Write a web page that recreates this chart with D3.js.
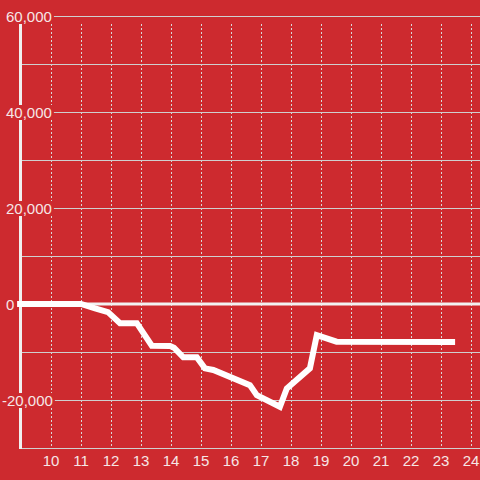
<!DOCTYPE html>
<html>
<head>
<meta charset="utf-8">
<script src="https://cdn.jsdelivr.net/npm/d3@7"></script>
<style>
  body { margin: 0; background: #cd2a2f; }
  svg { display: block; font-family: "Liberation Sans", Arial, sans-serif; }
</style>
</head>
<body>
<div id="chart"></div>
<script>
// Data (hour of day, value)
const hours = [8.87, 11.0, 11.47, 11.9, 12.3, 12.86, 13.36, 13.97, 14.1, 14.41, 14.86, 15.13, 15.41, 16.63, 16.86, 17.63, 17.86, 18.63, 18.86, 19.52, 23.47];
const values = [0, 0, -900, -1700, -4000, -4000, -8700, -8750, -9100, -11100, -11100, -13400, -13750, -16900, -19000, -21400, -17600, -13400, -6500, -7850, -7900];
const xTicks = [10, 11, 12, 13, 14, 15, 16, 17, 18, 19, 20, 21, 22, 23, 24];
const yMajor = [60000, 40000, 20000, 0, -20000];
const yMinor = [50000, 30000, 10000, -10000];

const width = 480, height = 480;
const plotLeft = 21, plotTop = 24, plotBottom = 448;
const bg = "#cd2a2f";

const svg = d3.select("#chart")
  .append("svg")
  .attr("width", width)
  .attr("height", height);

svg.append("rect")
  .attr("width", width)
  .attr("height", height)
  .attr("fill", bg);

// Scales
const x = d3.scaleLinear()
  .domain([9, 24.3])
  .range([plotLeft, width]);

const y = d3.scaleLinear()
  .domain([-30000, 60000])
  .range([plotBottom, 16]);

// Vertical dashed grid
svg.selectAll("vgrid")
  .data(xTicks)
  .join("line")
  .attr("x1", d => Math.round(x(d)) + 0.5)
  .attr("x2", d => Math.round(x(d)) + 0.5)
  .attr("y1", plotTop)
  .attr("y2", plotBottom)
  .attr("stroke", "#d8d8d8")
  .attr("stroke-width", 1)
  .attr("stroke-dasharray", "2,2");

// Horizontal grid
svg.selectAll("hgrid")
  .data(yMajor.concat(yMinor).filter(d => d !== 0))
  .join("line")
  .attr("x1", plotLeft)
  .attr("x2", width)
  .attr("y1", d => Math.round(y(d)) + 0.5)
  .attr("y2", d => Math.round(y(d)) + 0.5)
  .attr("stroke", "#cfcfcf")
  .attr("stroke-width", 1);

// Zero line
svg.append("line")
  .attr("x1", plotLeft)
  .attr("x2", width)
  .attr("y1", y(0))
  .attr("y2", y(0))
  .attr("stroke", "#f2f2f2")
  .attr("stroke-width", 3);

// Bottom axis line
svg.append("line")
  .attr("x1", plotLeft - 1)
  .attr("x2", width)
  .attr("y1", plotBottom + 0.5)
  .attr("y2", plotBottom + 0.5)
  .attr("stroke", "#d0d0d0")
  .attr("stroke-width", 1);

// Left axis line
svg.append("line")
  .attr("x1", plotLeft - 0.5)
  .attr("x2", plotLeft - 0.5)
  .attr("y1", plotTop)
  .attr("y2", plotBottom + 1)
  .attr("stroke", "#f0f0f0")
  .attr("stroke-width", 3);

// Y tick labels with background boxes
const fmt = d3.format(",");
const yLabels = svg.selectAll("ylabel")
  .data(yMajor)
  .join("g");

yLabels.append("text")
  .attr("x", d => d < 0 ? 2 : 6)
  .attr("y", d => y(d) + 6)
  .attr("font-size", "15px")
  .attr("fill", "#f6e6e6")
  .text(d => fmt(d).replace("−", "-"));

yLabels.each(function () {
  const g = d3.select(this);
  const b = g.select("text").node().getBBox();
  g.insert("rect", "text")
    .attr("x", b.x - 2)
    .attr("y", b.y + 1)
    .attr("width", b.width + 4)
    .attr("height", b.height - 2)
    .attr("fill", bg);
});

// X tick labels
svg.selectAll("xlabel")
  .data(xTicks)
  .join("text")
  .attr("x", d => x(d))
  .attr("y", 465.5)
  .attr("text-anchor", "middle")
  .attr("font-size", "15px")
  .attr("fill", "#f6e6e6")
  .text(d => d);

// Line
const line = d3.line()
  .x((d, i) => x(hours[i]))
  .y(d => y(d));

svg.append("path")
  .datum(values)
  .attr("d", line)
  .attr("fill", "none")
  .attr("stroke", "#ffffff")
  .attr("stroke-width", 6);
</script>
</body>
</html>
